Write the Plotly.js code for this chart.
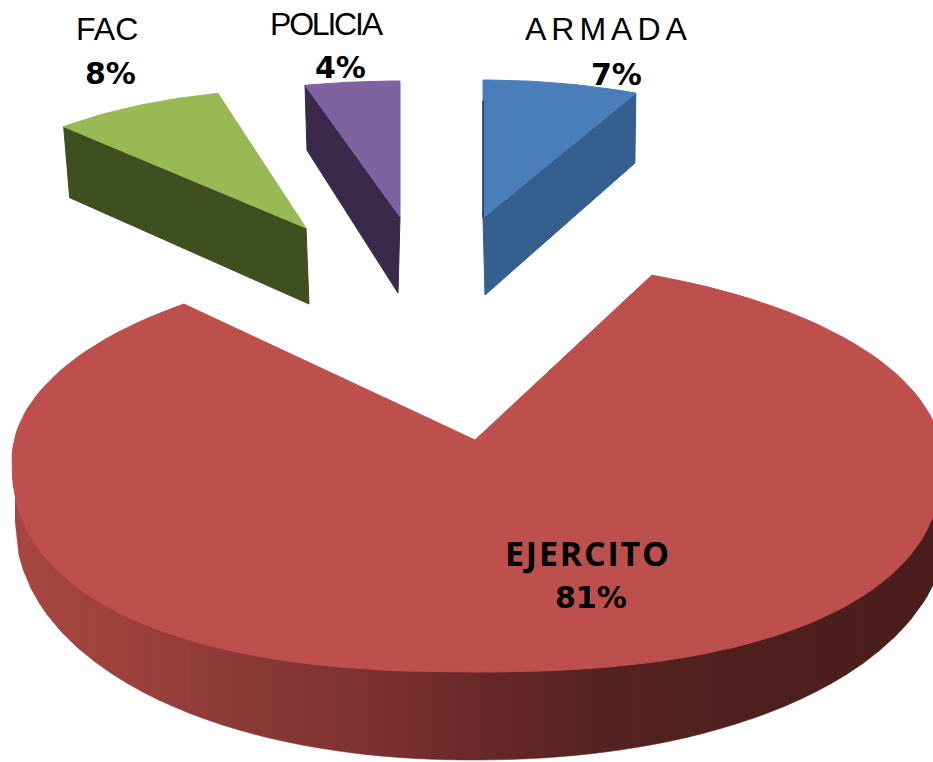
<!DOCTYPE html>
<html>
<head>
<meta charset="utf-8">
<script src="https://cdn.plot.ly/plotly-3.0.1.min.js"></script>
<style>html,body{margin:0;padding:0;background:#fff}#chart{width:933px;height:762px}</style>
</head>
<body>
<div id="chart"></div>
<script>
// ---- data (clockwise from 12 o'clock) ----
const categories = ["ARMADA", "EJERCITO", "FAC", "POLICIA"];
const percents = [7, 81, 8, 4];

// ---- styles and placement (pixels of the 933x762 frame) ----
const topColors = {ARMADA:"#4a7ebb", EJERCITO:"#bd4f4c", FAC:"#98b954", POLICIA:"#7f62a0"};
const wallColors = {ARMADA:"#355f8f", FAC:"#3f4f20", POLICIA:"#39294a"};
const small = {
  ARMADA: {ax:483, ay:218, rx:359, ry:138, dxA:2,  dyA:77, dxR:-1, dyR:70},
  FAC:    {ax:306, ay:228, rx:354, ry:139, dxA:3,  dyA:76, dxR:6,  dyR:71},
  POLICIA:{ax:400, ay:217, rx:382, ry:136, dxA:-2, dyA:76, dxR:2,  dyR:65}
};
const big = {ax:475, ay:440, k:2.28, cx:472, cy:460, aL:460, aR:470, bTop:200, bBot:212, n:2.35,
             ocx:473, ocy:520, oaL:458, oaR:475, ob:240, on:2.1};
const wallStops = [[15,[168,70,64]],[133,[155,64,60]],[233,[140,58,55]],[370,[124,49,48]],
                   [470,[107,41,41]],[600,[85,34,31]],[750,[78,32,29]],[933,[74,29,28]]];
const labelFont = "Liberation Sans, Arial, sans-serif";
const boldFont = "DejaVu Sans, sans-serif";
const headSpacing = {ARMADA:5, FAC:0, POLICIA:-2.2};
const headPos = {ARMADA:[608,29], FAC:[107,29], POLICIA:[327,24]};
const pctPos = {ARMADA:[616,74], FAC:[110,73], POLICIA:[340,67], EJERCITO:[591,597]};

// ---- slice angles from the values ----
const total = percents.reduce((a,b)=>a+b,0);
let run = 0;
const angle = {};
categories.forEach((c,i)=>{ angle[c]=[run/total*360,(run+percents[i])/total*360]; run+=percents[i]; });
const rad = d=>d*Math.PI/180;

function poly(xs,ys,color,lw){
  return {type:"scatter",mode:"lines",x:xs,y:ys,fill:"toself",fillcolor:color,
          line:{color:color,width:lw===undefined?1:lw,shape:"linear"},hoverinfo:"skip",showlegend:false};
}
const traces = [];

// big slice: wall strips, then top face
function lowerRim(x){
  const a = x>big.cx?big.aR:big.aL, u=Math.min(1,Math.abs(x-big.cx)/a);
  return big.cy+big.bBot*Math.pow(1-Math.pow(u,big.n),1/big.n);
}
function outerRim(x){
  const a = x>big.ocx?big.oaR:big.oaL, u=Math.min(1,Math.abs(x-big.ocx)/a);
  return big.ocy+big.ob*Math.pow(1-Math.pow(u,big.on),1/big.on);
}
function shade(x){
  for(let i=1;i<wallStops.length;i++){
    if(x<=wallStops[i][0]){
      const [x0,c0]=wallStops[i-1],[x1,c1]=wallStops[i],t=Math.max(0,(x-x0)/(x1-x0));
      return "rgb("+c0.map((v,j)=>Math.round(v+(c1[j]-v)*t)).join(",")+")";
    }
  }
  return "rgb(74,29,28)";
}
for(let x0=15;x0<933;x0+=16){
  const xs=[],ys=[],x1=Math.min(x0+16,936);
  for(let j=0;j<=4;j++){const x=x0+(x1-x0)*j/4;xs.push(x);ys.push(Math.max(outerRim(x),lowerRim(x)));}
  for(let j=4;j>=0;j--){const x=x0+(x1-x0)*j/4;xs.push(x);ys.push(lowerRim(x)-4);}
  traces.push(poly(xs,ys,shade((x0+x1)/2),0.5));
}
function rimPoint(phi){
  const s=Math.sin(rad(phi)),c=Math.cos(rad(phi)),a=s>0?big.aR:big.aL;
  if(c>=0) return [big.cx+a*s,big.cy-big.bTop*c];
  const e=2/big.n;
  return [big.cx+a*Math.sign(s)*Math.pow(Math.abs(s),e),big.cy+big.bBot*Math.pow(-c,e)];
}
function rayToRim(theta){
  const dx=Math.sin(rad(theta)),dy=-Math.cos(rad(theta))/big.k,a=dx>0?big.aR:big.aL;
  const px=big.ax-big.cx,py=big.ay-big.cy;
  const A=dx*dx/(a*a)+dy*dy/(big.bTop*big.bTop),
        B=2*(px*dx/(a*a)+py*dy/(big.bTop*big.bTop)),
        C=px*px/(a*a)+py*py/(big.bTop*big.bTop)-1;
  const t=(-B+Math.sqrt(B*B-4*A*C))/(2*A);
  const x=big.ax+t*dx,y=big.ay+t*dy;
  let phi=Math.atan2((x-big.cx)/a,-(y-big.cy)/big.bTop)*180/Math.PI;
  return phi<0?phi+360:phi;
}
{
  const [t0,t1]=angle.EJERCITO, p0=rayToRim(t0), p1=rayToRim(t1);
  const xs=[big.ax],ys=[big.ay];
  for(let i=0;i<=150;i++){const p=rimPoint(p0+(p1-p0)*i/150);xs.push(p[0]);ys.push(p[1]);}
  xs.push(big.ax);ys.push(big.ay);
  traces.push(poly(xs,ys,topColors.EJERCITO));
}

// exploded slices
["FAC","POLICIA","ARMADA"].forEach(name=>{
  const g=small[name],[t0,t1]=angle[name];
  const pt=t=>[g.ax+g.rx*Math.sin(rad(t)),g.ay-g.ry*Math.cos(rad(t))];
  const outer=name==="ARMADA"?pt(t1):pt(t0);
  traces.push(poly([g.ax,outer[0],outer[0]+g.dxR,g.ax+g.dxA,g.ax],
                   [g.ay,outer[1],outer[1]+g.dyR,g.ay+g.dyA,g.ay],wallColors[name]));
  const xs=[g.ax],ys=[g.ay];
  for(let i=0;i<=24;i++){const p=pt(t0+(t1-t0)*i/24);xs.push(p[0]);ys.push(p[1]);}
  xs.push(g.ax);ys.push(g.ay);
  traces.push(poly(xs,ys,topColors[name]));
  if(name==="ARMADA"){ // thin dark cut face along the left edge
    const e=pt(t0);
    traces.push({type:"scatter",mode:"lines",x:[g.ax,g.ax+(e[0]-g.ax)*0.85],y:[g.ay,g.ay+(e[1]-g.ay)*0.85],
      line:{color:"#1f3550",width:1.5},hoverinfo:"skip",showlegend:false});
  }
});

// labels
const annotations=[];
const note=(x,y,text,family,size,bold)=>annotations.push({x,y,xref:"x",yref:"y",text:bold?"<b>"+text+"</b>":text,
  showarrow:false,xanchor:"center",yanchor:"middle",font:{family,size,color:"#000"}});
const spaced=(t,s)=>s?'<span style="letter-spacing:'+s+'px">'+t+'</span>':t;
categories.forEach((c,i)=>{
  const pctText=percents[i]+"%";
  if(headPos[c]) note(headPos[c][0],headPos[c][1],spaced(c,headSpacing[c]),labelFont,32,false);
  else note(588,553,spaced(c,1.8),"Open Sans, sans-serif",34,true);
  note(pctPos[c][0],pctPos[c][1],pctText,boldFont,30,true);
});

Plotly.newPlot("chart",traces,{
  width:933,height:762,margin:{l:0,r:0,t:0,b:0},paper_bgcolor:"#fff",plot_bgcolor:"#fff",showlegend:false,
  xaxis:{range:[0,933],visible:false,fixedrange:true},
  yaxis:{range:[762,0],visible:false,fixedrange:true},
  annotations:annotations,hovermode:false
},{displayModeBar:false,staticPlot:true});
</script>
</body>
</html>
